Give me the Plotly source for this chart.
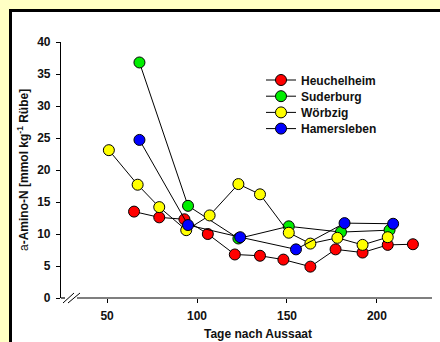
import plotly.graph_objects as go

# Data (days after sowing, alpha-amino-N mmol/kg beet)
heu_x = [65, 79, 93, 106, 121, 135, 148, 163, 177, 192, 206, 220]
heu_y = [13.5, 12.6, 12.3, 10.0, 6.8, 6.6, 6.0, 4.9, 7.6, 7.1, 8.3, 8.4]
sud_x = [68, 95, 123, 151, 180, 207]
sud_y = [36.8, 14.4, 9.3, 11.2, 10.3, 10.6]
woe_x = [51, 67, 79, 94, 107, 123, 135, 151, 163, 178, 192, 206]
woe_y = [23.1, 17.7, 14.2, 10.6, 12.9, 17.8, 16.2, 10.2, 8.5, 9.4, 8.3, 9.5]
ham_x = [68, 95, 124, 155, 182, 209]
ham_y = [24.7, 11.4, 9.5, 7.6, 11.7, 11.6]

names = ["Heuchelheim", "Suderburg", "Wörbzig", "Hamersleben"]
colors = ["#ff0000", "#00ee00", "#ffff00", "#0000ff"]
xs = [heu_x, sud_x, woe_x, ham_x]
ys = [heu_y, sud_y, woe_y, ham_y]

x_ticks = [50, 100, 150, 200]
y_ticks = [0, 5, 10, 15, 20, 25, 30, 35, 40]

FONT = "Arial, Liberation Sans, sans-serif"
FS = 12

L, R, T, B = 61, 8, 42, 44
W, H = 440, 342
pw = W - L - R
ph = H - T - B


def px(xp):
    return (xp - L) / pw


def py(yp):
    return (H - B - yp) / ph


fig = go.Figure()
legend_ids = ["legend", "legend2", "legend3", "legend4"]
legend_layout = {}
for i, (n, c, x, y) in enumerate(zip(names, colors, xs, ys)):
    fig.add_trace(go.Scatter(
        x=x, y=y, name=n, mode="lines+markers",
        line=dict(color="black", width=1),
        marker=dict(color=c, size=11, line=dict(color="black", width=1)),
        legend=legend_ids[i],
    ))
    legend_layout[legend_ids[i]] = dict(
        x=px(261), y=py(80 + 16.2 * i), xanchor="left", yanchor="middle",
        bgcolor="rgba(0,0,0,0)", borderwidth=0,
        font=dict(family=FONT, size=FS, weight="bold", color="#111111"),
        itemwidth=30,
    )

shapes = [
    # white panel with black frame
    dict(type="rect", xref="paper", yref="paper", layer="below",
         x0=px(10.5), x1=px(460), y0=py(10.5), y1=py(360),
         fillcolor="white", line=dict(color="black", width=3)),
    # x axis line with break
    dict(type="line", xref="paper", yref="paper", x0=px(L), x1=px(65),
         y0=0, y1=0, line=dict(color="black", width=1.2)),
    dict(type="line", xref="paper", yref="paper", x0=px(77), x1=1,
         y0=0, y1=0, line=dict(color="black", width=1.2)),
    dict(type="line", xref="paper", yref="paper", x0=px(63), x1=px(74),
         y0=py(303), y1=py(293), line=dict(color="black", width=1)),
    dict(type="line", xref="paper", yref="paper", x0=px(68), x1=px(80),
         y0=py(303), y1=py(293), line=dict(color="black", width=1)),
]

fig.update_layout(
    width=W, height=H,
    margin=dict(l=L, r=R, t=T, b=B),
    paper_bgcolor="#ffffc4",
    plot_bgcolor="white",
    font=dict(family=FONT, size=FS, color="#111111"),
    shapes=shapes,
    showlegend=True,
    xaxis=dict(range=[24.4, 230.6], tickvals=x_ticks, ticks="outside", ticklen=4,
               tickcolor="black", showline=False, showgrid=False, zeroline=False,
               ticklabelstandoff=3,
               tickfont=dict(family=FONT, size=FS, weight="bold")),
    yaxis=dict(range=[0, 40], tickvals=y_ticks, ticks="outside", ticklen=4,
               tickcolor="black", showline=True, linecolor="black", linewidth=1.2,
               showgrid=False, zeroline=False, ticklabelstandoff=3,
               tickfont=dict(family=FONT, size=FS, weight="bold")),
    annotations=[
        dict(text="<b>Tage nach Aussaat</b>", xref="paper", yref="paper",
             x=px(258), y=py(334), xanchor="center", yanchor="middle",
             showarrow=False, font=dict(size=FS)),
        dict(text="a<b>-Amino-N [mmol kg<sup>-1</sup> Rübe]</b>", xref="paper", yref="paper",
             x=px(23), y=0.5, xanchor="center", yanchor="middle", textangle=-90,
             showarrow=False, font=dict(size=FS)),
    ],
)
fig.update_layout(**legend_layout)

fig.write_html("out.html")
